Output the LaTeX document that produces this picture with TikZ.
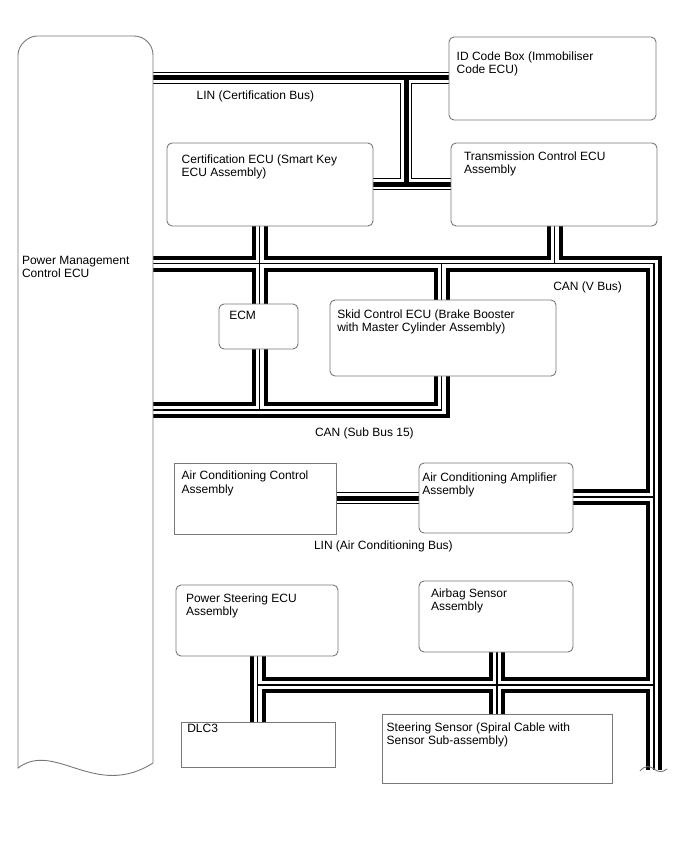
\documentclass[tikz,border=0pt]{standalone}
\usepackage{fontspec}
\setmainfont{Liberation Sans}
\usetikzlibrary{backgrounds}
\definecolor{boxgray}{RGB}{120,120,120}
\begin{document}
\begin{tikzpicture}[x=1pt,y=-1pt,
  rbox/.style={draw=boxgray, line width=0.9pt, fill=white, rounded corners=5pt, inner sep=0pt, outer sep=0pt, anchor=north west},
  sbox/.style={draw=boxgray, line width=0.9pt, fill=white, inner sep=0pt, outer sep=0pt, anchor=north west},
  lbl/.style={anchor=north west, inner sep=0pt, outer sep=0pt, align=left, font=\fontsize{12}{13.4}\selectfont},
  brk/.style={draw=boxgray, line width=0.9pt}]
\path[use as bounding box] (0,0) rectangle (688,852);

% Power Management Control ECU (tall shape with wavy bottom)
\draw[brk, fill=white] (18,768) -- (18,55) .. controls (18,44.5) and (28.5,36) .. (37,36) -- (134,36)
  .. controls (144.5,36) and (153,44.5) .. (153,55) -- (153,763)
  .. controls (95,800) and (55,740) .. (18,768) -- cycle;
\coordinate (pmE) at (153,400);

% boxes
\node[rbox, minimum width=207pt, minimum height=83pt] (idbox) at (449,37) {};
\node[rbox, minimum width=206pt, minimum height=83pt] (trans) at (451,143) {};
\node[rbox, minimum width=206pt, minimum height=83pt] (cert) at (167,143) {};
\node[rbox, minimum width=79pt, minimum height=45pt] (ecm) at (219,304) {};
\node[rbox, minimum width=226pt, minimum height=76pt] (skid) at (330,300) {};
\node[sbox, minimum width=162pt, minimum height=71pt] (acctrl) at (174,463) {};
\node[rbox, minimum width=154pt, minimum height=70pt] (acamp) at (419,463) {};
\node[rbox, minimum width=162pt, minimum height=71pt] (ps) at (176,585) {};
\node[rbox, minimum width=154pt, minimum height=71pt] (airbag) at (419,581) {};
\node[sbox, minimum width=154pt, minimum height=45pt] (dlc) at (181,722) {};
\node[sbox, minimum width=230pt, minimum height=69pt] (steer) at (382,714) {};

% junction coordinates
\coordinate (jL1) at (406,77.5);
\coordinate (jL2) at (406,184);
\coordinate (acL) at (377,498);
\coordinate (cx) at (259.5,263.5);
\coordinate (cR) at (654,263.5);
\coordinate (cT) at (554.5,263.5);
\coordinate (cS) at (441.5,263.5);
\coordinate (sb) at (259.5,410);
\coordinate (sbR) at (441.5,410);
\coordinate (acJ) at (654,497);
\coordinate (bJ) at (654,685);
\coordinate (psJ) at (257.5,685);
\coordinate (abJ) at (497,685);
\coordinate (vEnd) at (654,770);

\begin{pgfonlayer}{background}
\fill[white] (0,0) rectangle (688,852);
% CAN buses (two wires)
\foreach \w/\c in {16/black, 8/white, 1.2/black}{
  \draw[line width=\w pt, draw=\c, line join=miter]
    (cx -| pmE) -- (cR) -- (vEnd)
    (cert.south -| cx) -- (ecm.north -| cx)
    (ecm.south -| cx) -- (sb)
    (sb -| pmE) -- (sbR) -- (skid.south -| sbR)
    (skid.north -| cS) -- (cS)
    (trans.south -| cT) -- (cT)
    (acamp.east |- acJ) -- (acJ)
    (ps.south -| psJ) -- (dlc.north -| psJ)
    (psJ) -- (bJ)
    (airbag.south -| abJ) -- (steer.north -| abJ);
}
% LIN buses (single wire)
\foreach \w/\c in {12/black, 10/white, 5/black}{
  \draw[line width=\w pt, draw=\c, line join=miter]
    (jL1 -| pmE) -- (idbox.west |- jL1)
    (jL1) -- (jL2)
    (cert.east |- jL2) -- (trans.west |- jL2)
    (acctrl.east |- acL) -- (acamp.west |- acL);
}
\end{pgfonlayer}

% break mark at the end of the V bus
\draw[brk] (640,771) .. controls (645,765) and (650,766) .. (654,769) .. controls (658,772) and (662,773) .. (667,769);

% texts
\node[lbl] (pm-t) at (22,256) {Power Management\\Control ECU};
\node[lbl] (id-t) at (456.7,51.7) {ID Code Box (Immobiliser\\Code ECU)};
\node[lbl] (trans-t) at (464,151.7) {Transmission Control ECU\\Assembly};
\node[lbl] (cert-t) at (181.7,154.3) {Certification ECU (Smart Key\\ECU Assembly)};
\node[lbl] (lin1) at (196.7,90.7) {LIN (Certification Bus)};
\node[lbl] (ecm-t) at (229.3,310.7) {ECM};
\node[lbl] (skid-t) at (337.3,309.3) {Skid Control ECU (Brake Booster\\with Master Cylinder Assembly)};
\node[lbl] (canv) at (553.3,281.7) {CAN (V Bus)};
\node[lbl] (cansub) at (315,427.3) {CAN (Sub Bus 15)};
\node[lbl] (acctrl-t) at (181.7,471) {Air Conditioning Control\\Assembly};
\node[lbl] (acamp-t) at (422.3,472.3) {Air Conditioning Amplifier\\Assembly};
\node[lbl] (lin2) at (314,541) {LIN (Air Conditioning Bus)};
\node[lbl] (ps-t) at (186,593.3) {Power Steering ECU\\Assembly};
\node[lbl] (ab-t) at (431,588.3) {Airbag Sensor\\Assembly};
\node[lbl] (dlc-t) at (187.3,724) {DLC3};
\node[lbl] (steer-t) at (386.7,722.3) {Steering Sensor (Spiral Cable with\\Sensor Sub-assembly)};
\end{tikzpicture}
\end{document}
